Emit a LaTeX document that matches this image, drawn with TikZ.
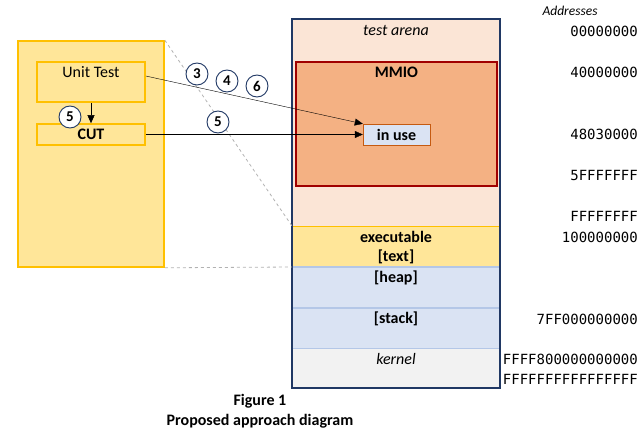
\documentclass[tikz,border=0pt]{standalone}
\usepackage{fontspec}
\setmainfont{Carlito}
\newfontfamily\addrfont{DejaVu Sans Mono}
\usetikzlibrary{positioning,arrows.meta}
\definecolor{ybox}{HTML}{FFE699}
\definecolor{yline}{HTML}{FFC000}
\definecolor{arena}{HTML}{FBE5D6}
\definecolor{mmiofill}{HTML}{F4B183}
\definecolor{mmioline}{HTML}{A00000}
\definecolor{bluefill}{HTML}{DAE3F3}
\definecolor{blueline}{HTML}{B4C7E7}
\definecolor{navy}{HTML}{203864}
\definecolor{kern}{HTML}{F2F2F2}
\definecolor{usedline}{HTML}{C55A11}

\begin{document}
\begin{tikzpicture}[x=1pt, y=-1pt, font=\fontsize{16}{19}\selectfont,
	ybx/.style={draw=yline, fill=ybox, line width=1.6pt, inner sep=0pt},
	numc/.style={draw=navy, fill=white, circle, line width=0.9pt, minimum size=22pt, inner sep=0pt, font=\fontsize{15}{17}\selectfont\bfseries},
	lbl/.style={font=\fontsize{16}{19}\selectfont\bfseries},
	addr/.style={anchor=east, inner sep=0pt, font=\fontsize{14}{16}\selectfont\addrfont},
	arr/.style={-{Triangle[length=8pt,width=7pt]}}]
	\useasboundingbox (0,0) rectangle (643,433);
	% left side
	\node[ybx, minimum width=146pt, minimum height=226pt] (bed) at (91,154) {};
	\node[ybx, minimum width=108pt, minimum height=40pt, label={[anchor=north, yshift=-2pt]north:Unit Test}] (unit) at (91,82) {};
	\node[ybx, lbl, minimum width=108pt, minimum height=21pt] (cut) at (91,134.5) {CUT};
	% memory map
	\fill[arena] (292,19) rectangle (500,226);
	\fill[ybox] (292,226) rectangle (500,267);
	\fill[bluefill] (292,267) rectangle (500,348);
	\fill[kern] (292,348) rectangle (500,388);
	\draw[yline, line width=1pt] (292,226) -- (500,226);
	\draw[blueline, line width=1.5pt] (292,267) -- (500,267);
	\draw[blueline, line width=1.5pt] (292,308) -- (500,308);
	\draw[blueline, line width=1pt] (292,348) -- (500,348);
	\node[draw=navy, line width=2pt, minimum width=208pt, minimum height=369pt, inner sep=0pt] (mem) at (396,203.5) {};
	\coordinate (exec) at (292,226);
	\coordinate (heap) at (292,267);
	\node[font=\fontsize{16}{19}\selectfont\itshape] (arenalbl) at (396,31) {test arena};
	\node[draw=mmioline, fill=mmiofill, line width=2pt, minimum width=201pt, minimum height=124pt, inner sep=0pt,
		label={[anchor=north, yshift=-2pt, lbl]north:MMIO}] (mmio) at (396.5,124) {};
	\node[draw=usedline, fill=bluefill, lbl, minimum width=67pt, minimum height=21pt, inner sep=0pt] (inuse) at (396.5,134.5) {in use};
	\node[lbl] (execlbl) at (396,237) {executable};
	\node[lbl] (textlbl) at (396,257) {[text]};
	\node[lbl] (heaplbl) at (396,278) {[heap]};
	\node[lbl] (stacklbl) at (396,319) {[stack]};
	\node[font=\fontsize{16}{19}\selectfont\itshape] (kernlbl) at (396,359) {kernel};
	% zoom lines
	\draw[gray!60, dashed, line width=0.8pt] (bed.north east) -- (exec);
	\draw[gray!60, dashed, line width=0.8pt] (bed.south east) -- (heap);
	% connectors
	\draw[arr] (unit.south) -- (cut.north);
	\draw[arr] ([yshift=6pt]unit.east) -- (inuse.north west);
	\draw[arr] (cut.east) -- (inuse.west);
	\node[numc] (s5a) at (70,117) {5};
	\node[numc] (s3) at (197,74) {3};
	\node[numc] (s4) at (227,81) {4};
	\node[numc] (s6) at (257,86) {6};
	\node[numc] (s5b) at (218,122) {5};
	% addresses
	\node[font=\fontsize{13.5}{16}\selectfont\itshape] (addrhd) at (570,11) {Addresses};
	\foreach \y/\a in {31/00000000, 72/40000000, 134/48030000, 175/5FFFFFFF, 216/FFFFFFFF,
		237/100000000, 319/7FF000000000, 359/FFFF800000000000, 379/FFFFFFFFFFFFFFFF}
		\node[addr] at (638,\y) {\a};
	% caption
	\node[lbl] (fig) at (260,401) {Figure 1};
	\node[lbl] (cap) at (260,421) {Proposed approach diagram};
\end{tikzpicture}
\end{document}
